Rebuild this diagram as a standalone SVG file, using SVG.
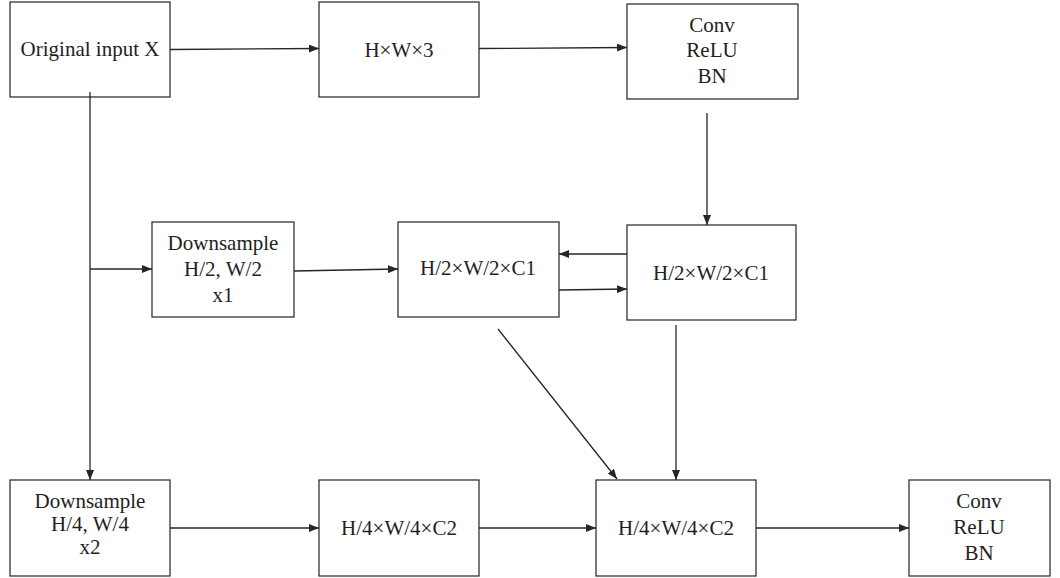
<svg xmlns="http://www.w3.org/2000/svg" width="1060" height="578" viewBox="0 0 1060 578">
<defs>
<marker id="ah" viewBox="0 0 10 8" refX="10" refY="4" markerWidth="10" markerHeight="8" markerUnits="userSpaceOnUse" orient="auto">
<path d="M0,0 L10,4 L0,8 Z" fill="#262626"/>
</marker>
<style>
rect{fill:#fff;stroke:#333;stroke-width:1.3}
text{font-family:"Liberation Serif","Times New Roman",serif;font-size:21px;fill:#231f20;text-anchor:middle;dominant-baseline:central}
.c line{stroke:#262626;stroke-width:1.3;fill:none}
.c .a{marker-end:url(#ah)}
</style>
</defs>
<rect x="0" y="0" width="1060" height="578" style="stroke:none"/>
<g id="n_input"><rect x="10" y="2" width="160" height="95"/><text x="90" y="49">Original input X</text></g>
<g id="n_hw3"><rect x="319" y="2" width="160" height="95"/><text x="399" y="50">H×W×3</text></g>
<g id="n_conv1"><rect x="627" y="4" width="171" height="95"/><text x="712" y="25">Conv</text><text x="712" y="50">ReLU</text><text x="712" y="76">BN</text></g>
<g id="n_down2"><rect x="152" y="222" width="142" height="95"/><text x="223" y="243">Downsample</text><text x="223" y="269">H/2, W/2</text><text x="223" y="295">x1</text></g>
<g id="n_mid"><rect x="398" y="222" width="161" height="95"/><text x="478" y="268">H/2×W/2×C1</text></g>
<g id="n_right"><rect x="627" y="225" width="169" height="95"/><text x="711" y="273">H/2×W/2×C1</text></g>
<g id="n_down4"><rect x="10" y="480" width="160" height="96"/><text x="90" y="501">Downsample</text><text x="90" y="524">H/4, W/4</text><text x="90" y="547">x2</text></g>
<g id="n_q1"><rect x="319" y="480" width="160" height="96"/><text x="399" y="528">H/4×W/4×C2</text></g>
<g id="n_q2"><rect x="596" y="480" width="160" height="96"/><text x="676" y="528">H/4×W/4×C2</text></g>
<g id="n_conv2"><rect x="909" y="480" width="141" height="96"/><text x="979" y="501">Conv</text><text x="979" y="527">ReLU</text><text x="979" y="553">BN</text></g>
<g class="c" id="connectors">
<line class="a" x1="170" y1="49.5" x2="319" y2="48.5"/>
<line class="a" x1="479" y1="48.5" x2="627" y2="47.5"/>
<line class="a" x1="707" y1="113" x2="707" y2="225"/>
<line x1="90" y1="92" x2="90" y2="470"/>
<line class="a" x1="90" y1="470" x2="90" y2="480"/>
<line class="a" x1="90" y1="269" x2="152" y2="269"/>
<line class="a" x1="294" y1="271" x2="398" y2="269"/>
<line class="a" x1="627" y1="254" x2="559" y2="254"/>
<line class="a" x1="559" y1="290" x2="627" y2="289"/>
<line class="a" x1="498" y1="329" x2="617" y2="479"/>
<line class="a" x1="676" y1="325" x2="676" y2="480"/>
<line class="a" x1="170" y1="528" x2="319" y2="528"/>
<line class="a" x1="479" y1="528" x2="596" y2="528"/>
<line class="a" x1="756" y1="528" x2="909" y2="528"/>
</g>
</svg>
